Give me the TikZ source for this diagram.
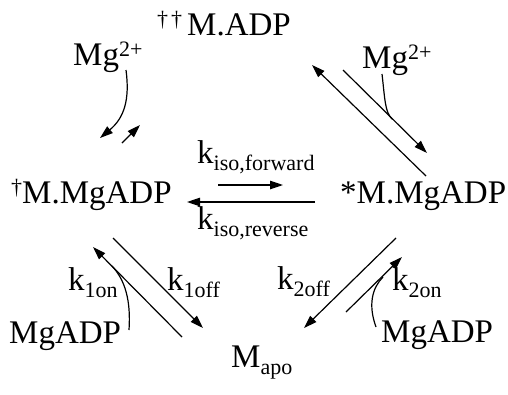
\documentclass[tikz,border=0pt]{standalone}
\usepackage{fontspec}
\setmainfont{Liberation Serif}
\usetikzlibrary{arrows.meta}
\newcommand\upx[1]{\raisebox{9pt}{\fontsize{22}{22}\selectfont #1}}
\newcommand\dnx[1]{\raisebox{-7pt}{\fontsize{22}{22}\selectfont #1}}
\tikzset{
  lbl/.style={anchor=base west, inner sep=0pt, font=\fontsize{33}{36}\selectfont},
  arr/.style={line width=1.2pt, -{Triangle[length=13pt,width=8.5pt]}},
  ln/.style={line width=1.2pt}
}
\begin{document}
\begin{tikzpicture}[x=1pt,y=-1pt]
\useasboundingbox (0,0) rectangle (508,394);
% labels
\node[lbl] (madp) at (157,35) {\upx{†\hspace{3pt}†}\hspace{5pt}M.ADP};
\node[lbl] (mgL) at (73,65) {Mg\upx{2+}};
\node[lbl] (mgR) at (362,68) {Mg\upx{2+}};
\node[lbl] (dagM) at (11,203) {\upx{†}M.MgADP};
\node[lbl] (starM) at (340,203) {*M.MgADP};
\node[lbl] (kisof) at (197,163) {k\dnx{iso,forward}};
\node[lbl] (kisor) at (197,229) {k\dnx{iso,reverse}};
\node[lbl] (k1on) at (68,290) {k\dnx{1on}};
\node[lbl] (k1off) at (167,290) {k\dnx{1off}};
\node[lbl] (k2off) at (277,289) {k\dnx{2off}};
\node[lbl] (k2on) at (392,290) {k\dnx{2on}};
\node[lbl] (adpL) at (9,343) {MgADP};
\node[lbl] (adpR) at (381,342) {MgADP};
\node[lbl] (mapo) at (231,367) {M\dnx{apo}};
% coordinates
\coordinate (a1) at (126,70);
\coordinate (a2) at (100,138);
\coordinate (b1) at (122,143);
\coordinate (b2) at (140,125);
\coordinate (c1) at (426,176);
\coordinate (c2) at (312,65);
\coordinate (d1) at (343,70);
\coordinate (d2) at (427,153);
\coordinate (e1) at (382,74);
\coordinate (e2) at (392,119);
\coordinate (f1) at (218,185);
\coordinate (f2) at (283,185);
\coordinate (g1) at (315,202);
\coordinate (g2) at (187,202);
\coordinate (h1) at (113,238);
\coordinate (h2) at (203,328);
\coordinate (i1) at (182,337);
\coordinate (i2) at (93,247);
\coordinate (j1) at (129,330);
\coordinate (j2) at (112,266);
\coordinate (m1) at (396,238);
\coordinate (m2) at (304,328);
\coordinate (n1) at (346,312);
\coordinate (n2) at (402,257);
\coordinate (o1) at (376,327);
\coordinate (o2) at (383,277);
% connectors
\draw[arr] (a1) .. controls (130,100) and (124,118) .. (a2);
\draw[arr] (b1) -- (b2);
\draw[arr] (c1) -- (c2);
\draw[arr] (d1) -- (d2);
\draw[ln] (e1) .. controls (385,100) and (385,112) .. (e2);
\draw[arr] (f1) -- (f2);
\draw[arr] (g1) -- (g2);
\draw[arr] (h1) -- (h2);
\draw[arr] (i1) -- (i2);
\draw[ln] (j1) .. controls (131,300) and (125,280) .. (j2);
\draw[arr] (m1) -- (m2);
\draw[arr] (n1) -- (n2);
\draw[ln] (o1) .. controls (368,305) and (372,288) .. (o2);
\end{tikzpicture}
\end{document}
